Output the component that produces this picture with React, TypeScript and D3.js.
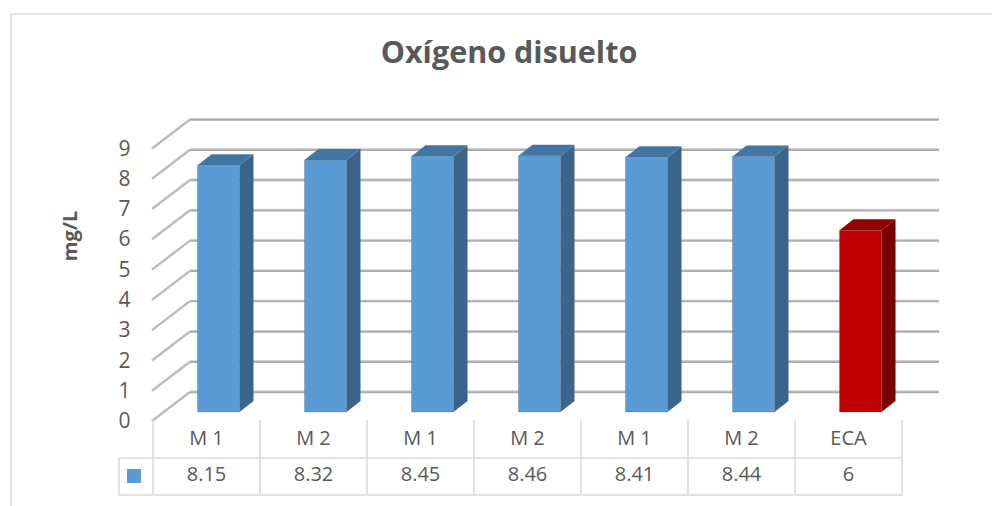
import React from "react";
import * as d3 from "d3";

const categories = ["M 1", "M 2", "M 1", "M 2", "M 1", "M 2", "ECA"];
const values = [8.15, 8.32, 8.45, 8.46, 8.41, 8.44, 6];
const valueLabels = ["8.15", "8.32", "8.45", "8.46", "8.41", "8.44", "6"];
const ticks = [0, 1, 2, 3, 4, 5, 6, 7, 8, 9];
const title = "Oxígeno disuelto";
const yTitle = "mg/L";

const W = 992;
const H = 506;
const FONT = "'Open Sans', 'Noto Sans', sans-serif";
const TXT = "#595959";

export default function App() {
  const frontX = 152;
  const depthDX = 38;
  const depthDY = 29;
  const backRight = 939;
  const floorFrontY = 421;
  const barFrontShift = 12;
  const barFrontFloor = 412;
  const barDX = 14;
  const barDY = 11;
  const barW = 42;

  const yBack = d3.scaleLinear().domain([0, 9]).range([floorFrontY - depthDY, floorFrontY - depthDY - 9 * 30.28]);
  const yBar = d3.scaleLinear().domain([0, 9]).range([barFrontFloor, barFrontFloor - 9 * 30.28]);
  const x = d3.scaleBand<number>().domain(d3.range(categories.length)).range([153, 902]).paddingInner(0).paddingOuter(0);
  const bw = x.bandwidth();

  const tableTop = 420;
  const row1 = 458;
  const row2 = 495;
  const keyLeft = 119;
  const tRight = 902;

  return (
    <svg width={W} height={H} style={{ position: "absolute", left: 0, top: 0 }}>
      <rect x={0} y={0} width={W} height={H} fill="#fff" />
      <rect x={11} y={14} width={W + 20} height={H + 20} fill="#fff" stroke="#d9d9d9" strokeWidth={1.5} />
      <text x={509} y={55} textAnchor="middle" dominantBaseline="middle" fontFamily={FONT} fontWeight="bold" fontSize={30.5} fill={TXT}>
        {title}
      </text>
      <text transform="translate(72,236) rotate(-90)" textAnchor="middle" dominantBaseline="middle" fontFamily={FONT} fontWeight="bold" fontSize={20} fill={TXT}>
        {yTitle}
      </text>
      {ticks.map((t) => {
        const yb = yBack(t);
        return (
          <g key={t}>
            <line x1={frontX} y1={yb + depthDY} x2={frontX + depthDX} y2={yb} stroke="#bcbcbc" strokeWidth={2.4} />
            <line x1={frontX + depthDX} y1={yb} x2={backRight} y2={yb} stroke="#acacac" strokeWidth={2.4} />
            <line x1={frontX + depthDX} y1={yb - 1} x2={backRight} y2={yb - 1} stroke="#cfcfcf" strokeWidth={0.8} />
            <text x={124.5} y={yb + depthDY + 1.5} textAnchor="middle" dominantBaseline="middle" fontFamily={FONT} fontSize={21} fill={TXT}>
              {t}
            </text>
          </g>
        );
      })}
      {values.map((v, i) => {
        const red = i === values.length - 1;
        const front = red ? "#c00000" : "#5b9bd5";
        const side = red ? "#760000" : "#3a6489";
        const top = red ? "#930000" : "#4375a3";
        const x0 = (x(i) as number) + bw / 2 + barFrontShift - barW / 2;
        const yt = yBar(v);
        const yb = yBar(0);
        const topPts = [
          [x0, yt],
          [x0 + barDX, yt - barDY],
          [x0 + barW + barDX, yt - barDY],
          [x0 + barW, yt],
        ];
        const sidePts = [
          [x0 + barW, yt],
          [x0 + barW + barDX, yt - barDY],
          [x0 + barW + barDX, yb - barDY],
          [x0 + barW, yb],
        ];
        return (
          <g key={i}>
            <polygon points={sidePts.map((p) => p.join(",")).join(" ")} fill={side} />
            <polygon points={topPts.map((p) => p.join(",")).join(" ")} fill={top} />
            <rect x={x0} y={yt} width={barW} height={yb - yt} fill={front} stroke="rgba(90,90,90,0.35)" strokeWidth={0.8} />
          </g>
        );
      })}
      <g stroke="#d9d9d9" strokeWidth={1.5} fill="none">
        {d3.range(categories.length + 1).map((k) => {
          const xx = k < categories.length ? (x(k) as number) : tRight;
          return <line key={k} x1={xx} y1={tableTop} x2={xx} y2={row2} />;
        })}
        <line x1={keyLeft} y1={row1} x2={tRight} y2={row1} />
        <line x1={keyLeft} y1={row2} x2={tRight} y2={row2} />
        <line x1={keyLeft} y1={row1} x2={keyLeft} y2={row2} />
      </g>
      <rect x={127} y={469} width={14} height={14} fill="#5b9bd5" />
      {categories.map((c, i) => (
        <text key={"c" + i} x={(x(i) as number) + bw / 2} y={440} textAnchor="middle" dominantBaseline="middle" fontFamily={FONT} fontSize={20} fill={TXT}>
          {c}
        </text>
      ))}
      {valueLabels.map((c, i) => (
        <text key={"v" + i} x={(x(i) as number) + bw / 2} y={476} textAnchor="middle" dominantBaseline="middle" fontFamily={FONT} fontSize={20} fill={TXT}>
          {c}
        </text>
      ))}
    </svg>
  );
}
